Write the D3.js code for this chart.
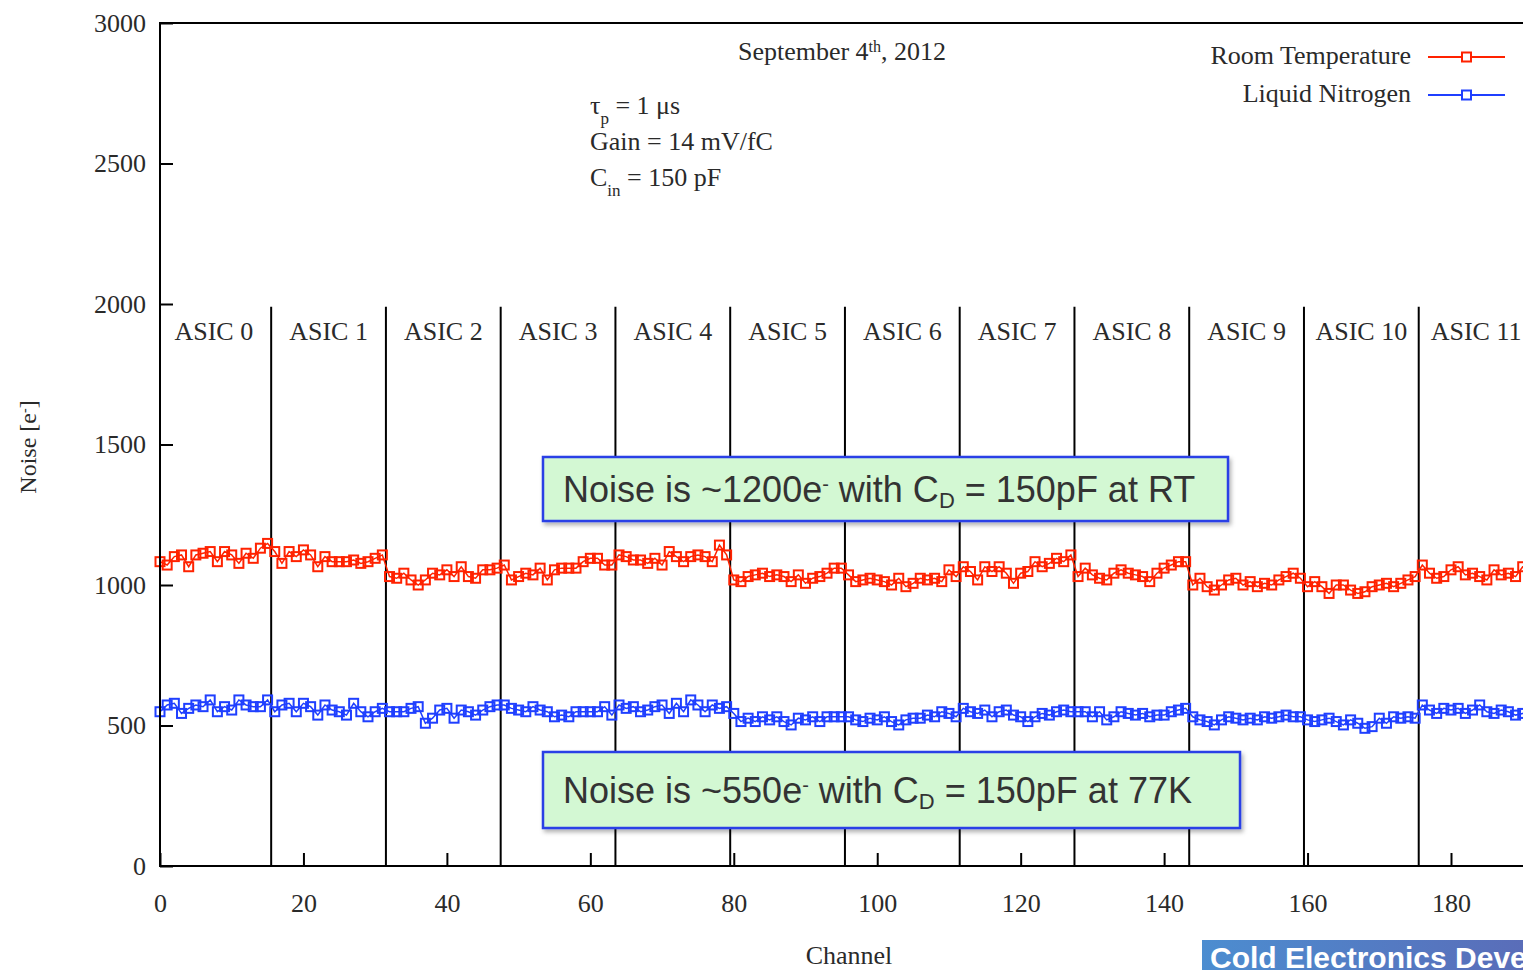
<!DOCTYPE html>
<html lang="en">
<head>
<meta charset="utf-8">
<title>Noise vs Channel</title>
<script src="https://cdn.jsdelivr.net/npm/d3@7"></script>
<style>
body { margin: 0; background: #fff; }
svg { display: block; }
.axis text { font-family: "Liberation Serif", serif; font-size: 26px; fill: #2a2a2a; }
.axis line { stroke: #000; stroke-width: 2px; }
.serif { font-family: "Liberation Serif", serif; font-size: 26px; fill: #2a2a2a; }
.note { font-family: "Liberation Sans", Arial, sans-serif; font-size: 36px; fill: #333; }
</style>
</head>
<body>
<script>
var w = 1523, h = 970;

// channel noise, room temperature (e-), ch 0..191
var rtNoise = [
  1083,1071,1101,1107,1065,1107,1113,1119,1083,1119,1107,1077,1113,1095,1131,1148,
  1119,1077,1119,1101,1125,1107,1065,1101,1083,1083,1083,1089,1077,1083,1095,1107,
  1030,1024,1042,1018,1000,1018,1042,1036,1054,1030,1065,1030,1024,1054,1054,1060,
  1071,1018,1030,1042,1036,1060,1018,1054,1060,1060,1060,1083,1095,1095,1071,1071,
  1107,1101,1089,1089,1077,1095,1071,1119,1101,1083,1101,1107,1101,1083,1142,1107,
  1018,1012,1030,1036,1042,1030,1036,1030,1012,1036,1006,1024,1030,1042,1060,1060,
  1036,1012,1018,1024,1018,1012,1000,1024,994,1006,1024,1018,1024,1012,1054,1030,
  1065,1048,1018,1065,1048,1065,1042,1006,1042,1048,1083,1065,1077,1095,1083,1107,
  1030,1060,1036,1024,1018,1042,1054,1042,1036,1030,1012,1042,1060,1071,1083,1083,
  1000,1024,994,982,1000,1018,1024,1000,1012,994,1006,1000,1018,1030,1042,1024,
  994,1012,994,970,1000,1000,982,970,976,994,1000,1006,994,1006,1018,1030,
  1071,1042,1024,1030,1054,1065,1036,1042,1030,1018,1054,1036,1042,1030,1065,1071
];

// channel noise, liquid nitrogen (e-), ch 0..191
var lnNoise = [
  549,573,579,543,561,573,567,591,549,567,555,591,573,567,567,591,
  549,573,579,549,579,567,537,573,555,549,537,579,549,531,549,561,
  549,549,549,561,567,508,526,555,561,526,555,549,537,555,567,573,
  573,561,555,549,567,555,549,531,537,531,549,549,549,549,567,537,
  573,561,567,549,555,567,573,543,579,549,591,573,549,573,561,567,
  543,514,526,514,531,520,531,514,502,526,520,531,514,531,531,531,
  531,520,514,526,520,531,514,502,520,526,526,537,531,549,543,531,
  561,549,543,555,531,549,555,537,531,514,531,543,537,549,555,549,
  549,549,531,549,520,531,549,543,537,543,531,537,537,549,555,561,
  531,520,514,502,520,531,526,520,526,520,531,526,531,537,531,531,
  520,514,520,526,514,502,520,508,490,496,526,508,531,526,531,526,
  573,555,543,561,555,561,543,555,573,549,543,555,549,537,543,549
];

var asicNames = ["ASIC 0","ASIC 1","ASIC 2","ASIC 3","ASIC 4","ASIC 5",
                 "ASIC 6","ASIC 7","ASIC 8","ASIC 9","ASIC 10","ASIC 11"];
var xTicks = [0, 20, 40, 60, 80, 100, 120, 140, 160, 180];
var yTicks = [0, 500, 1000, 1500, 2000, 2500, 3000];
var chPerAsic = 16;

var red = "#ff2200", blue = "#1f3fff";

var xScale = d3.scaleLinear().domain([0, 180]).range([160, 1451]);
var yScale = d3.scaleLinear().domain([0, 3000]).range([866, 23]);

var svg = d3.select("body").append("svg")
    .attr("width", w)
    .attr("height", h);

var defs = svg.append("defs");
var shadow = defs.append("filter").attr("id", "shadow")
    .attr("x", "-5%").attr("y", "-20%").attr("width", "115%").attr("height", "160%");
shadow.append("feDropShadow").attr("dx", 2).attr("dy", 3)
    .attr("stdDeviation", 2).attr("flood-color", "#000").attr("flood-opacity", 0.3);
var grad = defs.append("linearGradient").attr("id", "banner");
grad.append("stop").attr("offset", "0%").attr("stop-color", "#4c8dd0");
grad.append("stop").attr("offset", "100%").attr("stop-color", "#5a6cb8");

// ASIC dividers
var dividers = d3.range(1, asicNames.length).map(function(k) { return k * chPerAsic - 0.5; });
svg.selectAll("line.div")
    .data(dividers)
    .enter().append("line")
    .attr("class", "div")
    .attr("x1", function(d) { return xScale(d); })
    .attr("x2", function(d) { return xScale(d); })
    .attr("y1", yScale(1990))
    .attr("y2", yScale(0))
    .attr("stroke", "#000")
    .attr("stroke-width", 2);

svg.selectAll("text.asic")
    .data(asicNames)
    .enter().append("text")
    .attr("class", "serif")
    .attr("x", function(d, i) { return xScale(i * chPerAsic + 7.5); })
    .attr("y", 340)
    .attr("text-anchor", "middle")
    .text(function(d) { return d; });

// series
function drawSeries(data, color) {
    var line = d3.line()
        .x(function(d, i) { return xScale(i); })
        .y(function(d) { return yScale(d); });
    svg.append("path")
        .datum(data)
        .attr("d", line)
        .attr("fill", "none")
        .attr("stroke", color)
        .attr("stroke-width", 1.5);
    svg.append("g").selectAll("rect")
        .data(data)
        .enter().append("rect")
        .attr("x", function(d, i) { return xScale(i) - 4.5; })
        .attr("y", function(d) { return yScale(d) - 4.5; })
        .attr("width", 9)
        .attr("height", 9)
        .attr("fill", "none")
        .attr("stroke", color)
        .attr("stroke-width", 2);
}
drawSeries(rtNoise, red);
drawSeries(lnNoise, blue);

// axes (ticks point inward)
var yAxis = d3.axisLeft(yScale).tickValues(yTicks).tickFormat(d3.format("d"))
    .tickSizeInner(-13).tickSizeOuter(0).tickPadding(14);
var xAxis = d3.axisBottom(xScale).tickValues(xTicks).tickFormat(d3.format("d"))
    .tickSizeInner(-13).tickSizeOuter(0).tickPadding(28);

svg.append("g").attr("class", "axis")
    .attr("transform", "translate(160,0)")
    .call(yAxis)
    .call(function(g) { g.select(".domain").remove(); });
svg.append("g").attr("class", "axis")
    .attr("transform", "translate(0,866)")
    .call(xAxis)
    .call(function(g) { g.select(".domain").remove(); });

// frame
svg.append("path")
    .attr("d", "M" + w + ",23H160V866H" + w)
    .attr("fill", "none")
    .attr("stroke", "#000")
    .attr("stroke-width", 2);

// axis titles
svg.append("text").attr("class", "serif")
    .attr("x", 849).attr("y", 964)
    .attr("text-anchor", "middle")
    .text("Channel");
var yl = svg.append("text").attr("class", "serif")
    .attr("transform", "translate(36,447) rotate(-90)")
    .attr("text-anchor", "middle")
    .style("font-size", "24px");
yl.append("tspan").text("Noise [e");
yl.append("tspan").attr("baseline-shift", "super").style("font-size", "14px").text("-");
yl.append("tspan").text("]");

// date
var title = svg.append("text").attr("class", "serif")
    .attr("x", 842).attr("y", 60)
    .attr("text-anchor", "middle");
title.append("tspan").text("September 4");
title.append("tspan").attr("baseline-shift", "super").style("font-size", "16px").text("th");
title.append("tspan").text(", 2012");

// parameters
var p1 = svg.append("text").attr("class", "serif").attr("x", 590).attr("y", 114);
p1.append("tspan").text("\u03c4");
p1.append("tspan").attr("baseline-shift", "sub").style("font-size", "17px").text("p");
p1.append("tspan").text(" = 1 \u03bcs");
svg.append("text").attr("class", "serif").attr("x", 590).attr("y", 150).text("Gain = 14 mV/fC");
var p3 = svg.append("text").attr("class", "serif").attr("x", 590).attr("y", 186);
p3.append("tspan").text("C");
p3.append("tspan").attr("baseline-shift", "sub").style("font-size", "17px").text("in");
p3.append("tspan").text(" = 150 pF");

// legend
var legend = [{name: "Room Temperature", color: red, y: 57},
              {name: "Liquid Nitrogen", color: blue, y: 95}];
var lg = svg.append("g").selectAll("g").data(legend).enter().append("g");
lg.append("text").attr("class", "serif")
    .attr("x", 1411).attr("y", function(d) { return d.y + 7; })
    .attr("text-anchor", "end")
    .text(function(d) { return d.name; });
lg.append("line")
    .attr("x1", 1428).attr("x2", 1505)
    .attr("y1", function(d) { return d.y; }).attr("y2", function(d) { return d.y; })
    .attr("stroke", function(d) { return d.color; })
    .attr("stroke-width", 2);
lg.append("rect")
    .attr("x", 1462).attr("y", function(d) { return d.y - 4.5; })
    .attr("width", 9).attr("height", 9)
    .attr("fill", "#fff")
    .attr("stroke", function(d) { return d.color; })
    .attr("stroke-width", 2);

// callout boxes
function callout(x, y, bw, bh, before, after) {
    svg.append("rect")
        .attr("x", x).attr("y", y).attr("width", bw).attr("height", bh)
        .attr("fill", "#d3f8d3")
        .attr("stroke", "#2a3fe6")
        .attr("stroke-width", 2.5)
        .attr("filter", "url(#shadow)");
    var t = svg.append("text").attr("class", "note")
        .attr("x", x + 20).attr("y", y + bh / 2 + 13);
    t.append("tspan").text(before);
    t.append("tspan").attr("baseline-shift", "super").style("font-size", "20px").text("-");
    t.append("tspan").text(" with C");
    t.append("tspan").attr("baseline-shift", "-6").style("font-size", "22px").text("D");
    t.append("tspan").text(after);
}
callout(543, 457, 685, 64, "Noise is ~1200e", " = 150pF at RT");
callout(543, 752, 697, 76, "Noise is ~550e", " = 150pF at 77K");

// banner
svg.append("rect")
    .attr("x", 1202).attr("y", 940).attr("width", 330).attr("height", 40)
    .attr("fill", "url(#banner)");
svg.append("text")
    .attr("x", 1210).attr("y", 968)
    .style("font-family", "\"Liberation Sans\", Arial, sans-serif")
    .style("font-size", "30px")
    .style("font-weight", "bold")
    .attr("fill", "#fff")
    .text("Cold Electronics Development");
</script>
</body>
</html>
